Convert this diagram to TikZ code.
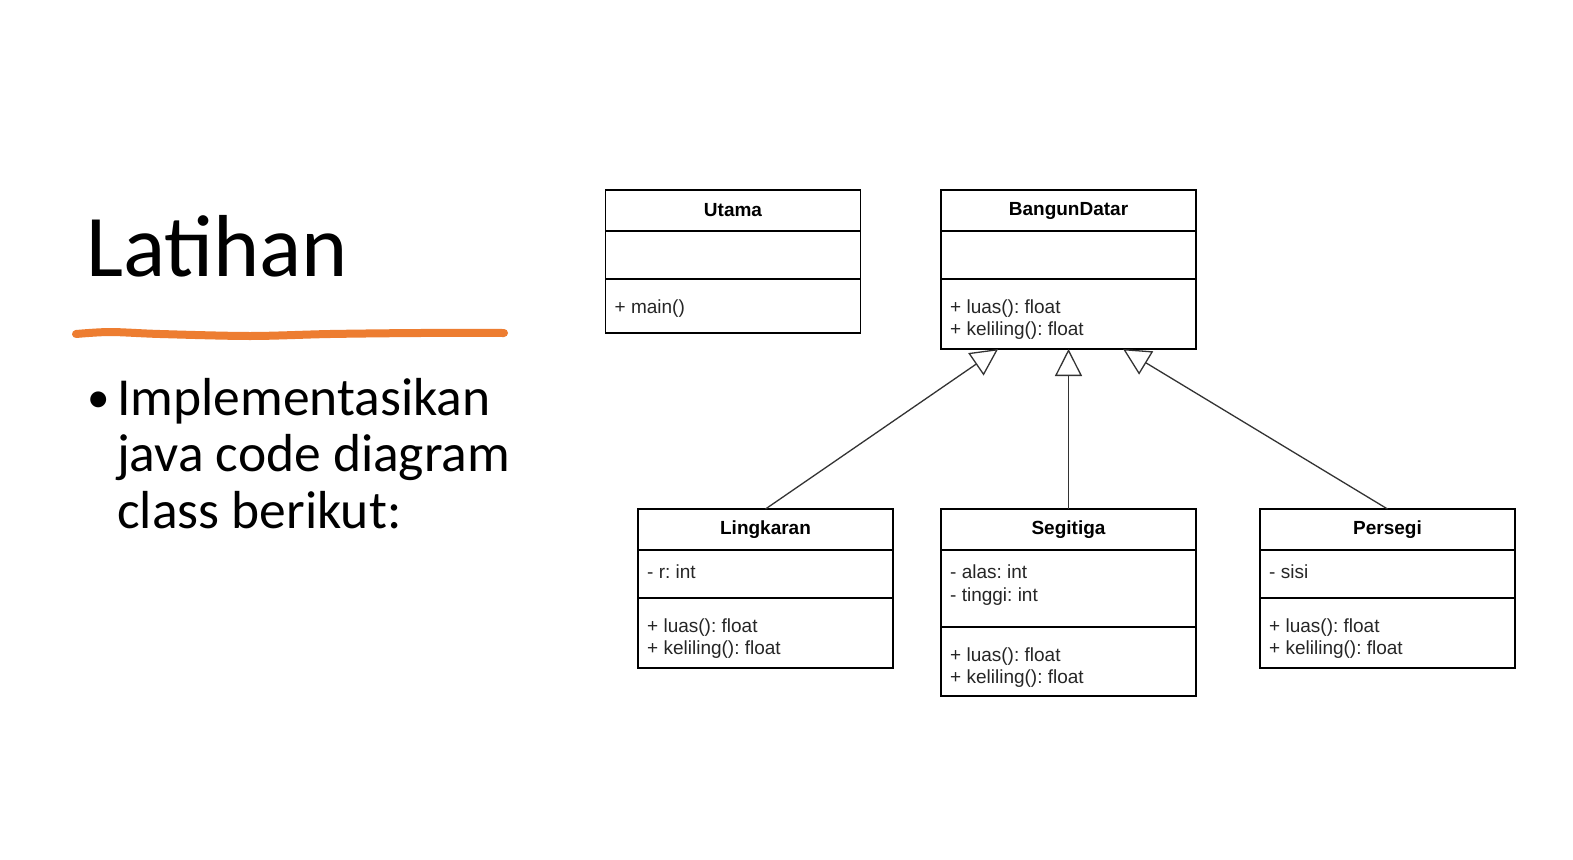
\documentclass[tikz,border=0pt]{standalone}
\usepackage{fontspec}
\setmainfont{Carlito}
\newfontfamily\umlfont{Liberation Sans}
\usetikzlibrary{positioning,arrows.meta,calc}
\definecolor{garis}{HTML}{ED7D31}
\frenchspacing
\tikzset{
  classhead/.style={draw, line width=1.3pt, minimum width=255pt, minimum height=41pt,
    inner sep=0pt, outer sep=0pt, font=\umlfont\bfseries\fontsize{19}{23}\selectfont},
  compart/.style={draw, line width=1.3pt, minimum width=255pt, inner sep=0pt, outer sep=0pt},
  member/.style={anchor=base west, inner sep=0pt, text=black!85, font=\umlfont\fontsize{19}{23}\selectfont},
  inherit/.style={line width=1.3pt, draw=black!80, -{Triangle[open, length=27pt, width=27pt]}},
}
\begin{document}
\begin{tikzpicture}[x=1pt,y=-1pt]
\useasboundingbox[fill=white] (0,0) rectangle (1573,859);

\node[anchor=base west, inner sep=0pt, font=\fontsize{88}{100}\selectfont] (judul) at (86,276) {Latihan};
\draw[garis, line width=8pt, line cap=round] plot[smooth] coordinates {(76,334) (110,332) (160,334) (250,336) (330,334) (420,333) (504,333)};
\node[anchor=base west, inner sep=0pt, font=\fontsize{45}{56.5}\selectfont] (butir) at (87,412) {\textbullet};
\node[anchor=base west, inner sep=0pt, align=left, font=\fontsize{53.5}{56.5}\selectfont] (isi) at (117,528) {Implementasikan\\java code diagram\\class berikut:};

% Utama
\node[classhead] (utama) at (733,210.5) {Utama};
\node[compart, minimum height=48pt, below=0pt of utama] (utama-a) {};
\node[compart, minimum height=54pt, below=0pt of utama-a] (utama-m) {};
\node[member] at ($(utama-m.north west)+(9,34)$) {+ main()};

% BangunDatar
\node[classhead] (bangun) at (1068.5,210.5) {BangunDatar};
\node[compart, minimum height=48pt, below=0pt of bangun] (bangun-a) {};
\node[compart, minimum height=70pt, below=0pt of bangun-a] (bangun-m) {};
\node[member] at ($(bangun-m.north west)+(9,34)$) {+ luas(): float};
\node[member] at ($(bangun-m.north west)+(9,56.5)$) {+ keliling(): float};

% Lingkaran
\node[classhead] (lingkaran) at (765.5,529.5) {Lingkaran};
\node[compart, minimum height=48pt, below=0pt of lingkaran] (lingkaran-a) {};
\node[compart, minimum height=70pt, below=0pt of lingkaran-a] (lingkaran-m) {};
\node[member] at ($(lingkaran-a.north west)+(9,28.5)$) {- r: int};
\node[member] at ($(lingkaran-m.north west)+(9,34)$) {+ luas(): float};
\node[member] at ($(lingkaran-m.north west)+(9,56.5)$) {+ keliling(): float};

% Segitiga
\node[classhead] (segitiga) at (1068.5,529.5) {Segitiga};
\node[compart, minimum height=77pt, below=0pt of segitiga] (segitiga-a) {};
\node[compart, minimum height=69pt, below=0pt of segitiga-a] (segitiga-m) {};
\node[member] at ($(segitiga-a.north west)+(9,28.5)$) {- alas: int};
\node[member] at ($(segitiga-a.north west)+(9,51)$) {- tinggi: int};
\node[member] at ($(segitiga-m.north west)+(9,34)$) {+ luas(): float};
\node[member] at ($(segitiga-m.north west)+(9,56.5)$) {+ keliling(): float};

% Persegi
\node[classhead] (persegi) at (1387.5,529.5) {Persegi};
\node[compart, minimum height=48pt, below=0pt of persegi] (persegi-a) {};
\node[compart, minimum height=70pt, below=0pt of persegi-a] (persegi-m) {};
\node[member] at ($(persegi-a.north west)+(9,28.5)$) {- sisi};
\node[member] at ($(persegi-m.north west)+(9,34)$) {+ luas(): float};
\node[member] at ($(persegi-m.north west)+(9,56.5)$) {+ keliling(): float};

\coordinate (bangun-kiri) at ($(bangun-m.south west)!0.224!(bangun-m.south east)$);
\coordinate (bangun-kanan) at ($(bangun-m.south west)!0.714!(bangun-m.south east)$);
\draw[inherit] (lingkaran.north) -- (bangun-kiri);
\draw[inherit] (segitiga.north) -- (bangun-m.south);
\draw[inherit] (persegi.north) -- (bangun-kanan);

\end{tikzpicture}
\end{document}
